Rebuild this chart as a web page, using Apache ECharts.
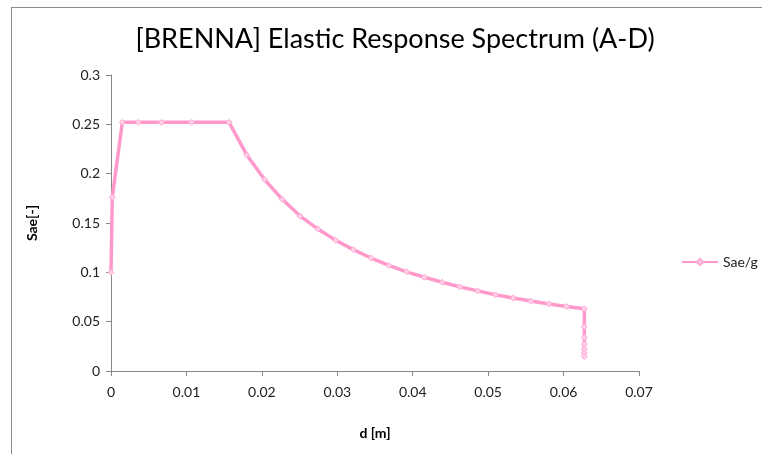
<!DOCTYPE html>
<html>
<head>
<meta charset="utf-8">
<script src="https://cdn.jsdelivr.net/npm/echarts@6/dist/echarts.min.js"></script>
<style>
    html, body { margin: 0; padding: 0; background: #fff; }
    #wrap { position: relative; width: 762px; height: 454px; overflow: hidden; }
    #chart { width: 762px; height: 454px; }
    #frame {
        position: absolute; left: 11px; top: 7px; width: 800px; height: 500px;
        border-left: 1px solid #8c8c8c; border-top: 1px solid #8c8c8c;
        pointer-events: none;
    }
</style>
</head>
<body>
<div id="wrap">
    <div id="chart"></div>
    <div id="frame"></div>
</div>
<script>
    // spectrum points: displacement d [m] and Sae/g
    const dValues = [
        0, 0.00017, 0.0015, 0.0036, 0.0067, 0.0107, 0.01565,
        0.0180, 0.02036, 0.02271, 0.02507, 0.02742, 0.02978, 0.03213, 0.03449,
        0.03684, 0.0392, 0.04155, 0.04391, 0.04626, 0.04862, 0.05097, 0.05333,
        0.05568, 0.05804, 0.06039, 0.06275,
        0.06275, 0.06275, 0.06275, 0.06275, 0.06275, 0.06275
    ];
    const saeValues = [
        0.1, 0.176, 0.252, 0.252, 0.252, 0.252, 0.252,
        0.219, 0.194, 0.174, 0.157, 0.144, 0.1325, 0.123, 0.1145,
        0.107, 0.1005, 0.095, 0.09, 0.0853, 0.0812, 0.0772, 0.074,
        0.0709, 0.068, 0.0654, 0.063,
        0.0449, 0.034, 0.0272, 0.0223, 0.0182, 0.0148
    ];
    const xTicks = [0, 0.07, 0.01];
    const yTicks = [0, 0.3, 0.05];

    const points = dValues.map((d, i) => [d, saeValues[i]]);
    const font = 'Lato, "Open Sans", sans-serif';
    const axisLine = { show: true, lineStyle: { color: '#888888', width: 1 } };

    const chart = echarts.init(document.getElementById('chart'));
    chart.setOption({
        animation: false,
        backgroundColor: '#ffffff',
        title: {
            text: '[BRENNA] Elastic Response Spectrum (A-D)',
            left: 390,
            textAlign: 'center',
            top: 21,
            textStyle: { fontFamily: font, fontSize: 27, fontWeight: 'normal', color: '#000' }
        },
        grid: { left: 111, right: 123, top: 75, bottom: 83 },
        legend: {
            left: 676,
            top: 250,
            itemWidth: 36,
            itemHeight: 8,
            itemGap: 2,
            textStyle: { fontFamily: font, fontSize: 14, color: '#222' },
            data: ['Sae/g']
        },
        xAxis: {
            type: 'value',
            min: xTicks[0],
            max: xTicks[1],
            interval: xTicks[2],
            name: 'd [m]',
            nameLocation: 'middle',
            nameGap: 55,
            nameTextStyle: { fontFamily: font, fontSize: 14, fontWeight: 'bold', color: '#000' },
            axisLine,
            axisTick: { show: true, inside: false, length: 5, lineStyle: { color: '#888888' } },
            axisLabel: { fontFamily: font, fontSize: 14, color: '#222', margin: 14 },
            splitLine: { show: false }
        },
        yAxis: {
            type: 'value',
            min: yTicks[0],
            max: yTicks[1],
            interval: yTicks[2],
            name: 'Sae[-]',
            nameLocation: 'middle',
            nameGap: 72,
            nameTextStyle: { fontFamily: font, fontSize: 14, fontWeight: 'bold', color: '#000' },
            axisLine,
            axisTick: { show: true, inside: false, length: 5, lineStyle: { color: '#888888' } },
            axisLabel: { fontFamily: font, fontSize: 14, color: '#222', margin: 11 },
            splitLine: { show: false }
        },
        series: [
            {
                name: 'Sae/g',
                type: 'line',
                data: points,
                symbol: 'diamond',
                symbolSize: 6,
                showAllSymbol: true,
                lineStyle: { color: '#ff99cc', width: 3.5 },
                itemStyle: { color: '#ffd0e6', borderColor: '#ffa8d4', borderWidth: 1 }
            }
        ]
    });
</script>
</body>
</html>
